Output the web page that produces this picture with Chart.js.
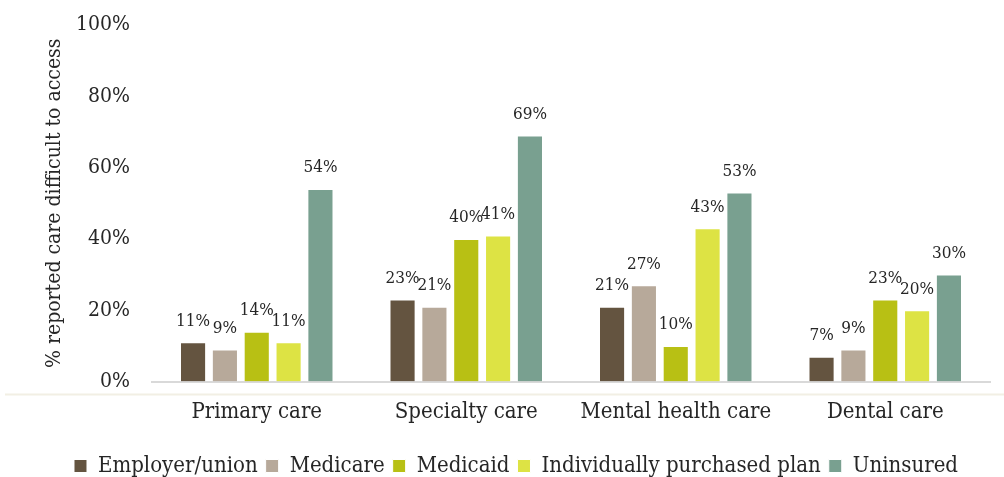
<!DOCTYPE html>
<html>
<head>
<meta charset="utf-8">
<script src="https://cdn.jsdelivr.net/npm/chart.js@4/dist/chart.umd.min.js"></script>
<style>
  html, body { margin: 0; padding: 0; background: #fff; }
  .chart-box { width: 1004px; height: 477px; position: relative; }
</style>
</head>
<body>
<div class="chart-box"><canvas id="chart"></canvas></div>
<script>
const categories = ['Primary care', 'Specialty care', 'Mental health care', 'Dental care'];
const seriesNames = ['Employer/union', 'Medicare', 'Medicaid', 'Individually purchased plan', 'Uninsured'];
const employerUnion = [11, 23, 21, 7];
const medicare = [9, 21, 27, 9];
const medicaid = [14, 40, 10, 23];
const individualPlan = [11, 41, 43, 20];
const uninsured = [54, 69, 53, 30];
const yTicks = [0, 20, 40, 60, 80, 100];
const colors = ['#645440', '#b7a99a', '#b8c014', '#dde344', '#79a090'];

const fontFamily = '"DejaVu Serif Condensed", "DejaVu Serif", serif';
const textColor = '#262626';

// draws the value above each bar, since the datalabels plugin isn't available
const valueLabels = {
    id: 'valueLabels',
    afterDatasetsDraw(chart) {
        const { ctx } = chart;
        ctx.save();
        ctx.font = '17px ' + fontFamily;
        ctx.fillStyle = textColor;
        ctx.textAlign = 'center';
        ctx.textBaseline = 'middle';
        chart.data.datasets.forEach((ds, i) => {
            chart.getDatasetMeta(i).data.forEach((bar, j) => {
                ctx.fillText(ds.data[j] + '%', bar.x, bar.y - 21);
            });
        });
        ctx.restore();
    }
};

// light separator line under the plot, like the original
const separator = {
    id: 'separator',
    afterDraw(chart) {
        const { ctx } = chart;
        const y = chart.scales.y.bottom + 13;
        ctx.save();
        ctx.strokeStyle = '#f2efe4';
        ctx.lineWidth = 2;
        ctx.beginPath();
        ctx.moveTo(5, y);
        ctx.lineTo(chart.width, y);
        ctx.stroke();
        ctx.restore();
    }
};

const allSeries = [employerUnion, medicare, medicaid, individualPlan, uninsured];

new Chart(document.getElementById('chart'), {
    type: 'bar',
    data: {
        labels: categories,
        datasets: seriesNames.map((name, i) => ({
            label: name,
            data: allSeries[i],
            backgroundColor: colors[i],
            borderColor: '#ffffff',
            borderWidth: 1,
            barPercentage: 0.82,
            categoryPercentage: 0.76
        }))
    },
    options: {
        responsive: true,
        maintainAspectRatio: false,
        animation: false,
        layout: { padding: { top: 25, right: 14, left: 42, bottom: -10 } },
        plugins: {
            legend: {
                position: 'bottom',
                labels: {
                    boxWidth: 13,
                    boxHeight: 13,
                    padding: 8,
                    color: textColor,
                    font: { family: fontFamily, size: 22 }
                }
            },
            tooltip: { enabled: false }
        },
        scales: {
            x: {
                grid: { display: false, drawTicks: false },
                border: { display: true, color: '#d9d9d9', width: 2 },
                afterFit: (axis) => { axis.height += 5; },
                ticks: {
                    color: textColor,
                    padding: 17,
                    font: { family: fontFamily, size: 22 }
                }
            },
            y: {
                min: 0,
                max: 100,
                afterBuildTicks: (axis) => { axis.ticks = yTicks.map(v => ({ value: v })); },
                afterFit: (axis) => { axis.width = 110; axis.paddingTop = 0; },
                grid: { display: false, drawTicks: false },
                border: { display: false },
                title: {
                    display: true,
                    text: '% reported care difficult to access',
                    color: textColor,
                    font: { family: fontFamily, size: 21 },
                    padding: { top: 0, bottom: 8 }
                },
                ticks: {
                    color: textColor,
                    padding: 22,
                    font: { family: fontFamily, size: 21 },
                    callback: (v) => v + '%'
                }
            }
        }
    },
    plugins: [valueLabels, separator]
});
</script>
</body>
</html>
